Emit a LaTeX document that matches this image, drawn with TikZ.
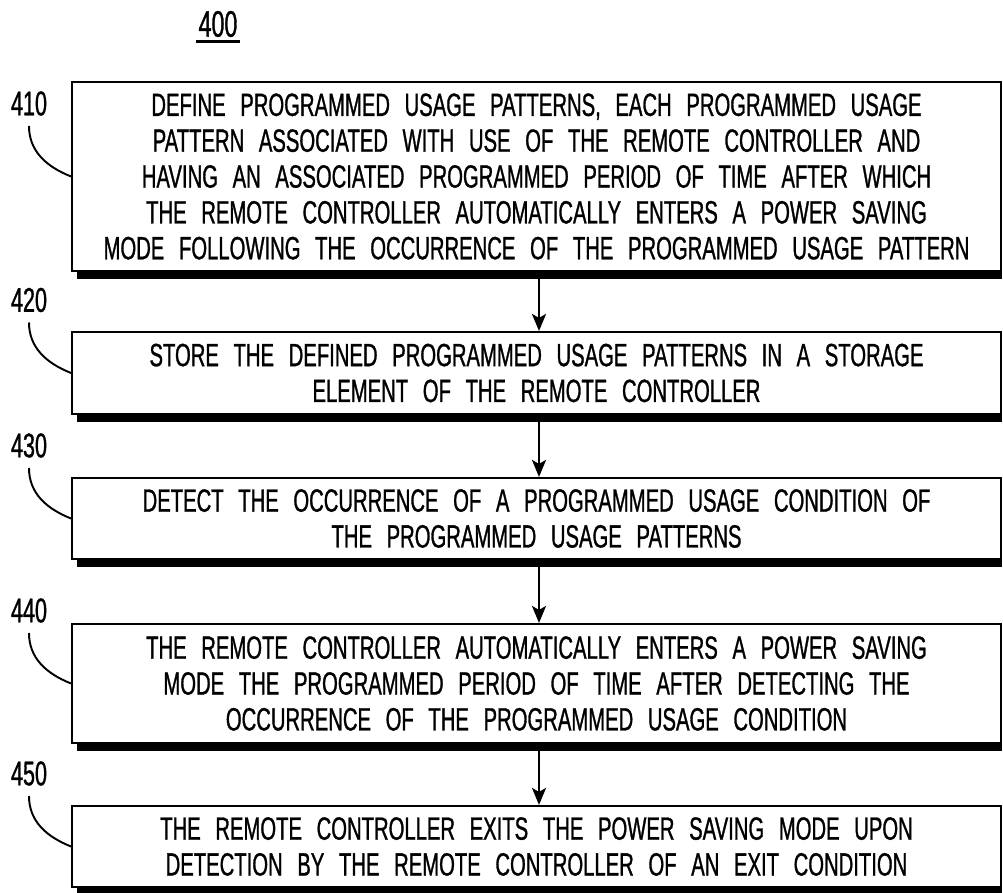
\documentclass[tikz,border=0pt]{standalone}
\usepackage{fontspec}
\usepackage{tikz}
\usetikzlibrary{arrows.meta}
\newfontfamily\patfont[FakeStretch=0.63,FakeBold=0.9,WordSpace=2.6]{Liberation Sans}
\newcommand{\boxfont}{\patfont\fontsize{18.3}{20.4}\selectfont}

\begin{document}
\begin{tikzpicture}[x=0.02cm,y=-0.02cm,
    stepbox/.style={draw,line width=1.2pt,minimum width=18.58cm,inner sep=0pt,align=center,font=\boxfont},
    reflabel/.style={inner sep=0pt,font=\patfont\fontsize{19.5}{20}\selectfont},
    leader/.style={line width=1.1pt,shorten <=0.2cm},
    flow/.style={line width=1.6pt,-{Stealth[length=0.34cm,width=0.28cm,inset=0.08cm]}}]
       \path[use as bounding box] (0,0) rectangle (1003,892);
       \clip (0,0) rectangle (1003,892);
       \node[reflabel,font=\patfont\fontsize{21}{22}\selectfont] (title) at (218,24) {400};
       \draw[line width=1.6pt] ([xshift=-0.04cm,yshift=-0.08cm]title.south west) -- ([xshift=0.04cm,yshift=-0.08cm]title.south east);
       \node[stepbox,minimum height=3.78cm] (s410) at (536.5,176.5)
         {DEFINE PROGRAMMED USAGE PATTERNS, EACH PROGRAMMED USAGE\\
          PATTERN ASSOCIATED WITH USE OF THE REMOTE CONTROLLER AND\\
          HAVING AN ASSOCIATED PROGRAMMED PERIOD OF TIME AFTER WHICH\\
          THE REMOTE CONTROLLER AUTOMATICALLY ENTERS A POWER SAVING\\
          MODE FOLLOWING THE OCCURRENCE OF THE PROGRAMMED USAGE PATTERN};
       \node[stepbox,minimum height=1.64cm] (s420) at (536.5,373)
         {STORE THE DEFINED PROGRAMMED USAGE PATTERNS IN A STORAGE\\
          ELEMENT OF THE REMOTE CONTROLLER};
       \node[stepbox,minimum height=1.62cm] (s430) at (536.5,518.5)
         {DETECT THE OCCURRENCE OF A PROGRAMMED USAGE CONDITION OF\\
          THE PROGRAMMED USAGE PATTERNS};
       \node[stepbox,minimum height=2.38cm] (s440) at (536.5,683.5)
         {THE REMOTE CONTROLLER AUTOMATICALLY ENTERS A POWER SAVING\\
          MODE THE PROGRAMMED PERIOD OF TIME AFTER DETECTING THE\\
          OCCURRENCE OF THE PROGRAMMED USAGE CONDITION};
       \node[stepbox,minimum height=1.62cm] (s450) at (536.5,846.5)
         {THE REMOTE CONTROLLER EXITS THE POWER SAVING MODE UPON\\
          DETECTION BY THE REMOTE CONTROLLER OF AN EXIT CONDITION};
       \node[reflabel] (l410) at (29,103.5) {410};
       \node[reflabel] (l420) at (29,300) {420};
       \node[reflabel] (l430) at (29,445.5) {430};
       \node[reflabel] (l440) at (29,610.5) {440};
       \node[reflabel] (l450) at (29,773.5) {450};
       \foreach \s in {410,420,...,450} {
         \fill ([xshift=0.12cm]s\s.south west) rectangle ([yshift=-0.14cm]s\s.south east);
         \draw[leader] (l\s.south) .. controls +(0,35) and +(-25,-10) .. (s\s.west);
       }
       \foreach \a/\b in {410/420,420/430,430/440,440/450}
         \draw[flow] ([xshift=0.05cm,yshift=-0.14cm]s\a.south) -- ([xshift=0.05cm]s\b.north);
      \end{tikzpicture}
\end{document}
